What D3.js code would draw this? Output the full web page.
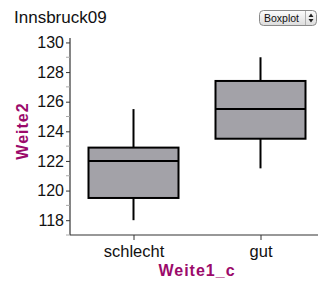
<!DOCTYPE html>
<html>
<head>
<meta charset="utf-8">
<script src="https://d3js.org/d3.v7.min.js"></script>
<style>
body{margin:0;background:#fff;}
svg{display:block;font-family:"Liberation Sans",Arial,sans-serif;}
</style>
</head>
<body>
<svg id="c" width="320" height="282"></svg>
<script>
const categories = ["schlecht", "gut"];
const whiskerLow = [118, 121.5];
const q1 = [119.5, 123.5];
const medians = [122, 125.5];
const q3 = [122.9, 127.4];
const whiskerHigh = [125.5, 129];
const yMajorTicks = [118, 120, 122, 124, 126, 128, 130];
const yMinorTicks = [117, 119, 121, 123, 125, 127, 129];

const svg = d3.select("#c");
const x = d3.scalePoint().domain(categories).range([70, 324]).padding(0.5);
const y = d3.scaleLinear().domain([117, 130.3]).range([235, 38]);
const boxW = 90;

// title
svg.append("text").attr("x", 14).attr("y", 23).attr("font-size", 17).attr("fill", "#111").text("Innsbruck09");

// select widget
const sel = svg.append("g").attr("transform", "translate(259,10)");
const grad = svg.append("defs").append("linearGradient").attr("id", "gsel").attr("x1", 0).attr("y1", 0).attr("x2", 0).attr("y2", 1);
grad.append("stop").attr("offset", "0").attr("stop-color", "#fdfdfd");
grad.append("stop").attr("offset", "1").attr("stop-color", "#dcdcdc");
sel.append("rect").attr("x", 0.5).attr("y", 0.5).attr("width", 57).attr("height", 15).attr("rx", 4)
  .attr("fill", "url(#gsel)").attr("stroke", "#8a8a8a");
sel.append("line").attr("x1", 46.5).attr("x2", 46.5).attr("y1", 1).attr("y2", 15).attr("stroke", "#b0b0b0");
sel.append("text").attr("x", 5).attr("y", 12).attr("font-size", 10.5).attr("fill", "#111").text("Boxplot");
sel.append("path").attr("d", "M49.5,7 L52,3.5 L54.5,7 Z M49.5,9 L52,12.5 L54.5,9 Z").attr("fill", "#222");

// axes lines
svg.append("line").attr("x1", 70).attr("x2", 70).attr("y1", 38).attr("y2", 235).attr("stroke", "#333").attr("stroke-width", 1.2);
svg.append("line").attr("x1", 70).attr("x2", 318).attr("y1", 235).attr("y2", 235).attr("stroke", "#333").attr("stroke-width", 1.2);

// minor ticks
svg.selectAll(".minor").data(yMinorTicks).join("line")
  .attr("x1", 66).attr("x2", 70).attr("y1", d => y(d)).attr("y2", d => y(d))
  .attr("stroke", "#aaa").attr("stroke-width", 1);

// y axis
const yAxis = d3.axisLeft(y).tickValues(yMajorTicks).tickSize(4).tickPadding(2).tickFormat(d3.format("d"));
const gy = svg.append("g").attr("transform", "translate(70,0)").call(yAxis);
gy.select(".domain").remove();
gy.selectAll(".tick line").attr("stroke", "#333");
gy.selectAll(".tick text").attr("font-size", 16).attr("fill", "#111").attr("font-family", "Liberation Sans, Arial, sans-serif");

// x axis
const xAxis = d3.axisBottom(x).tickSize(5).tickPadding(5);
const gx = svg.append("g").attr("transform", "translate(0,235)").call(xAxis);
gx.select(".domain").remove();
gx.selectAll(".tick line").attr("stroke", "#333");
gx.selectAll(".tick text").attr("font-size", 16.5).attr("fill", "#111").attr("font-family", "Liberation Sans, Arial, sans-serif");

// axis titles
svg.append("text").attr("x", 197).attr("y", 276).attr("text-anchor", "middle")
  .attr("font-size", 16).attr("font-weight", "bold").attr("letter-spacing", 1).attr("fill", "#9b0a6b").text("Weite1_c");
svg.append("text").attr("transform", "translate(28,131) rotate(-90)").attr("text-anchor", "middle")
  .attr("font-size", 16).attr("font-weight", "bold").attr("letter-spacing", 1).attr("fill", "#9b0a6b").text("Weite2");

// boxes
const data = categories.map((c, i) => ({c, lo: whiskerLow[i], q1: q1[i], med: medians[i], q3: q3[i], hi: whiskerHigh[i]}));
const g = svg.selectAll(".box").data(data).join("g");
g.append("line").attr("x1", d => x(d.c)).attr("x2", d => x(d.c)).attr("y1", d => y(d.hi)).attr("y2", d => y(d.q3)).attr("stroke", "#000").attr("stroke-width", 2);
g.append("line").attr("x1", d => x(d.c)).attr("x2", d => x(d.c)).attr("y1", d => y(d.q1)).attr("y2", d => y(d.lo)).attr("stroke", "#000").attr("stroke-width", 2);
g.append("rect").attr("x", d => x(d.c) - boxW / 2).attr("width", boxW)
  .attr("y", d => y(d.q3)).attr("height", d => y(d.q1) - y(d.q3))
  .attr("fill", "#a3a2a8").attr("stroke", "#000").attr("stroke-width", 2);
g.append("line").attr("x1", d => x(d.c) - boxW / 2).attr("x2", d => x(d.c) + boxW / 2)
  .attr("y1", d => y(d.med)).attr("y2", d => y(d.med)).attr("stroke", "#000").attr("stroke-width", 2);
</script>
</body>
</html>
